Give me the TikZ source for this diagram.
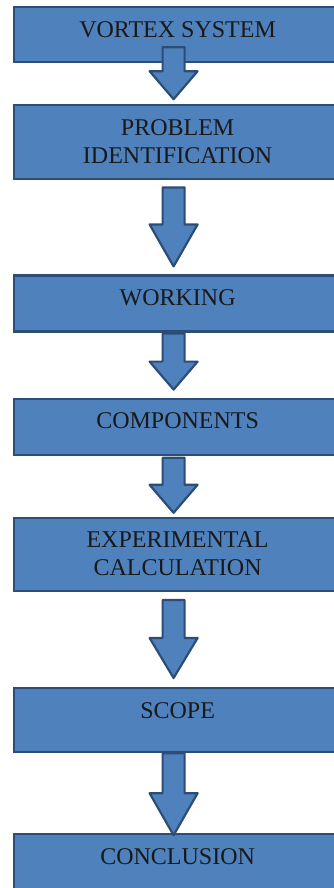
\documentclass[tikz,border=0pt]{standalone}
\usepackage{fontspec}
\setmainfont{Liberation Serif}
\usepackage{tikz}
\usetikzlibrary{calc,positioning}

\definecolor{stepfill}{HTML}{4F81BD}
\definecolor{stepline}{HTML}{2C4D75}

% block arrow from one box to the next: from, to, start shift, tip shift, head length
\newcommand{\flowarrow}[5]{
    \draw[downarrow] let \p1=($(#1.south)+(-4pt,#3)$), \p2=($(#2.north)+(-4pt,#4)$) in
        (\x1-11pt,\y1) -- (\x1-11pt,\y2+#5) -- (\x1-24pt,\y2+#5) -- (\x1,\y2)
        -- (\x1+24pt,\y2+#5) -- (\x1+11pt,\y2+#5) -- (\x1+11pt,\y1) -- cycle;
}

\begin{document}
\begin{tikzpicture}[
        stepbox/.style={rectangle, draw=stepline, fill=stepfill, line width=2.2pt,
        minimum width=327pt, inner xsep=0pt, inner ysep=0pt, text height=30pt,
        align=center, text=black!90, font=\fontsize{24pt}{28pt}\selectfont},
        twolines/.style={text height=58pt},
        downarrow/.style={draw=stepline, fill=stepfill, line width=2.2pt, line join=round}]
        \useasboundingbox (0,0) rectangle (334pt,-888pt);

        \node (vortex) [stepbox, text depth=25pt, anchor=north west] at (13pt,-6pt) {VORTEX SYSTEM};
        \node (problem) [stepbox, twolines, text depth=16pt, below=41pt of vortex] {PROBLEM\\IDENTIFICATION};
        \node (working) [stepbox, text depth=26pt, below=94pt of problem] {WORKING};
        \node (components) [stepbox, text depth=26pt, below=65pt of working] {COMPONENTS};
        \node (experiment) [stepbox, twolines, text depth=15pt, below=61pt of components] {EXPERIMENTAL\\CALCULATION};
        \node (scope) [stepbox, text depth=34pt, below=95pt of experiment] {SCOPE};
        \node (conclusion) [stepbox, text depth=34pt, below=80pt of scope] {CONCLUSION};

        \flowarrow{vortex}{problem}{16pt}{5pt}{28pt}
        \flowarrow{problem}{working}{-7pt}{8pt}{42pt}
        \flowarrow{working}{components}{-1pt}{8pt}{28pt}
        \flowarrow{components}{experiment}{-2pt}{4pt}{28pt}
        \flowarrow{experiment}{scope}{-8pt}{9pt}{40pt}
        \flowarrow{scope}{conclusion}{0pt}{-2pt}{42pt}
    \end{tikzpicture}
\end{document}
